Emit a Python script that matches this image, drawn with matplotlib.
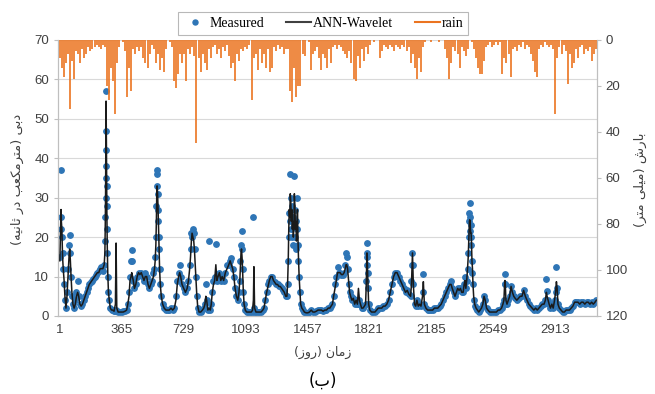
import numpy as np
import matplotlib

matplotlib.use("Agg")
import matplotlib.pyplot as plt
from matplotlib.lines import Line2D

# ---- data ---------------------------------------------------------------
# discharge (m3/s) : day index, measured, ANN-Wavelet
day = [
    1, 5, 8, 10, 13, 17, 21, 26, 31, 37,
    43, 49, 55, 59, 63, 67, 72, 78, 85, 92,
    99, 106, 112, 119, 126, 134, 142, 150, 158, 166,
    174, 182, 190, 198, 206, 214, 222, 230, 238, 246,
    254, 262, 266, 268, 270, 271, 272, 273, 274, 275,
    276, 277, 278, 280, 283, 287, 292, 298, 305, 312,
    320, 328, 332, 336, 344, 354, 364, 374, 384, 394,
    401, 408, 414, 420, 424, 428, 433, 440, 448, 456,
    464, 472, 480, 488, 496, 504, 512, 520, 528, 536,
    544, 552, 558, 562, 566, 569, 571, 573, 575, 577,
    579, 581, 583, 585, 588, 592, 598, 606, 615, 625,
    635, 645, 655, 665, 675, 684, 692, 700, 706, 712,
    720, 730, 740, 750, 758, 765, 770, 775, 779, 784,
    789, 794, 800, 806, 812, 820, 830, 840, 848, 855,
    860, 865, 872, 880, 886, 892, 898, 905, 912, 919,
    925, 932, 940, 948, 956, 965, 975, 985, 995, 1003,
    1010, 1018, 1025, 1032, 1040, 1048, 1055, 1060, 1064, 1067,
    1070, 1073, 1076, 1080, 1085, 1092, 1100, 1110, 1120, 1128,
    1135, 1140, 1143, 1147, 1155, 1165, 1175, 1185, 1195, 1202,
    1210, 1218, 1226, 1234, 1242, 1250, 1258, 1266, 1274, 1282,
    1290, 1298, 1306, 1314, 1322, 1330, 1337, 1341, 1345, 1348,
    1351, 1354, 1357, 1360, 1363, 1366, 1369, 1372, 1375, 1378,
    1381, 1384, 1387, 1390, 1393, 1396, 1399, 1402, 1405, 1409,
    1413, 1418, 1425, 1433, 1440, 1450, 1460, 1470, 1480, 1490,
    1500, 1510, 1520, 1530, 1540, 1550, 1560, 1570, 1580, 1590,
    1597, 1605, 1612, 1620, 1628, 1635, 1642, 1650, 1658, 1666,
    1674, 1680, 1685, 1689, 1694, 1700, 1706, 1712, 1720, 1728,
    1736, 1744, 1752, 1758, 1764, 1770, 1777, 1785, 1793, 1800,
    1804, 1806, 1807, 1808, 1810, 1812, 1815, 1818, 1825, 1835,
    1845, 1855, 1865, 1875, 1885, 1895, 1905, 1915, 1925, 1935,
    1945, 1955, 1965, 1975, 1985, 1995, 2005, 2015, 2025, 2035,
    2045, 2055, 2065, 2070, 2074, 2076, 2078, 2081, 2088, 2095,
    2102, 2110, 2118, 2126, 2135, 2140, 2146, 2155, 2165, 2175,
    2185, 2195, 2205, 2215, 2225, 2235, 2245, 2255, 2265, 2275,
    2285, 2295, 2303, 2310, 2318, 2326, 2334, 2342, 2350, 2358,
    2366, 2374, 2380, 2385, 2390, 2395, 2400, 2404, 2407, 2409,
    2411, 2413, 2415, 2417, 2419, 2421, 2423, 2426, 2429, 2432,
    2436, 2442, 2450, 2458, 2466, 2474, 2482, 2490, 2497, 2504,
    2512, 2520, 2530, 2540, 2550, 2560, 2570, 2580, 2590, 2600,
    2608, 2614, 2618, 2620, 2622, 2626, 2632, 2640, 2648, 2656,
    2664, 2672, 2680, 2690, 2700, 2710, 2720, 2730, 2740, 2750,
    2760, 2770, 2780, 2790, 2800, 2810, 2820, 2830, 2840, 2850,
    2858, 2864, 2868, 2874, 2880, 2888, 2896, 2904, 2912, 2918,
    2923, 2927, 2932, 2940, 2950, 2960, 2970, 2980, 2990, 3000,
    3010, 3020, 3030, 3040, 3050, 3060, 3070, 3080, 3090, 3100,
    3110, 3120, 3130, 3140, 3150, 3158,
]
q_obs = [
    15, 22, 25, 37, 20, 16, 12, 8, 4, 2,
    6, 12, 18, 20.5, 16, 10, 5, 3, 2, 4,
    6, 9, 5, 3, 2.5, 3, 4, 5, 6, 7,
    8, 8.5, 9, 9.5, 10, 10.5, 11, 11.5, 12, 12.5,
    11.5, 13, 19, 25, 57, 30, 35, 47, 42, 38,
    33, 28, 22, 16, 10, 6, 4, 2, 1.5, 1.5,
    1.2, 1.2, 1.5, 1.2, 1, 1, 1, 1.2, 1.2, 1.5,
    3, 6, 10, 14, 16.8, 14, 9, 7, 8, 10,
    11, 10.5, 11, 10, 9, 11, 10, 8, 7, 8,
    9, 11, 12, 15, 20, 28, 37, 36, 33, 31,
    27, 24, 20, 17, 12, 8, 5, 3, 2, 1.5,
    1.5, 1.5, 2, 1.5, 2, 5, 9, 11, 13, 10,
    8, 7, 6, 7, 9, 13, 17, 21, 20, 22,
    21, 17, 10, 5, 2, 1, 1, 1.5, 2, 3,
    8, 4, 1.5, 18.9, 1.5, 3, 6, 9, 10, 18.3,
    9, 10, 11, 9, 10, 9, 11, 13, 13, 14,
    14.8, 12, 10, 7, 5, 4, 6, 9, 14, 18,
    21.6, 17, 12, 6, 3, 1.5, 1, 1, 1, 1,
    25, 1, 2, 1, 1, 1, 1, 1, 1.5, 2,
    4, 6, 8, 9, 10, 10, 9, 8.5, 8, 8,
    7.5, 7.5, 7, 6.5, 6, 5, 5, 8, 14, 20,
    26, 24, 36, 30, 22, 28, 20, 25, 18, 23,
    35.5, 27, 20, 24, 17, 22, 29.9, 18, 14, 10,
    6, 3, 2, 1.5, 1, 0.8, 0.8, 1, 1.5, 1,
    1, 1.2, 1.5, 1.5, 1.5, 1.2, 1.5, 1.5, 2, 2,
    2.5, 3, 5, 8, 10, 12.5, 11, 11, 10.5, 10.5,
    11, 13, 16, 15, 12, 8, 6, 5, 4, 4.5,
    3, 4, 3, 3, 4, 3, 2, 2, 2.5, 3,
    9, 13, 16, 18.5, 15, 11, 7, 3, 1.5, 1,
    1, 1, 1.5, 2, 2, 2, 2.5, 2.5, 3, 4,
    6, 8, 10, 11, 11, 10, 9, 8, 7, 6,
    6.5, 5.5, 5, 9, 13, 16, 13, 8, 3, 2.5,
    4, 2.5, 3, 2.5, 10.6, 6, 3, 2, 1.5, 1.5,
    1.5, 1.5, 2, 2, 2, 2.5, 3, 4, 5, 6,
    7, 8, 9, 7, 6, 5, 6, 7, 6.5, 7,
    6, 6, 8, 10, 7, 9, 12, 16, 20, 24,
    26, 28.7, 25, 21.6, 20, 23, 18, 14, 11, 8,
    4, 2.5, 2, 1.5, 1, 1.5, 2, 3, 5, 4,
    2, 1.5, 1, 1, 1, 1, 1, 1.5, 1.5, 2,
    3, 4, 8, 10.6, 8, 3, 3, 4, 5, 7.5,
    6, 5, 4.5, 4, 4.5, 5, 5, 6.6, 5, 4,
    3, 2.5, 2, 1.5, 2, 1.5, 2, 2.5, 3, 3,
    4, 9.5, 6.4, 4, 3, 2, 3, 2, 4, 6,
    12.4, 7, 3, 2, 1.5, 1, 1, 1.5, 1.5, 1.5,
    2, 2.5, 3.5, 3.5, 3.5, 3, 3.5, 3.5, 3, 3.5,
    3.5, 3, 3.5, 3, 3.5, 4,
]
q_ann = [
    14, 21, 27, 24, 22, 15, 12, 9, 5, 2,
    5, 10, 15, 17, 14, 10, 6, 3, 2, 3,
    5, 6, 5, 3, 2.5, 3, 4, 5, 6, 7,
    8, 8.5, 9, 9.5, 10, 10.5, 11, 11, 12, 12,
    12, 13, 16, 22, 30, 40, 50, 54.5, 50, 44,
    38, 32, 25, 18, 11, 6, 4, 2, 1.5, 1.5,
    1.2, 3, 18.5, 2, 1, 1, 1, 1, 1.2, 1.5,
    3, 5, 9, 10, 11, 10, 9, 7, 8, 10,
    11, 10.5, 11, 10, 9, 10, 10, 8, 7, 8,
    9, 10, 12, 14, 18, 24, 30, 33, 32, 30,
    27, 24, 20, 17, 12, 8, 5, 3, 2, 1.5,
    1.5, 1.5, 2, 1.5, 2, 4, 8, 10, 11, 10,
    8, 7, 6, 7, 9, 12, 15, 19, 21, 20,
    19, 16, 11, 6, 2.5, 1, 1, 1.5, 2, 3,
    5, 4, 1.5, 2, 1.5, 3, 6, 8, 9, 13,
    9, 10, 11, 9, 10, 9, 11, 12, 13, 14,
    13, 12, 10, 7, 5, 4, 6, 9, 13, 16,
    17, 15, 12, 7, 3, 1.5, 1, 1, 1, 1,
    1.5, 4, 12.5, 2, 1, 1, 1, 1, 1.5, 2,
    4, 6, 7.5, 9, 10, 10, 9, 8.5, 8, 8,
    7.5, 7.5, 7, 6.5, 6, 5, 5, 8, 14, 22,
    27, 25, 31, 29, 24, 27, 22, 24, 20, 22,
    31, 28, 22, 24, 19, 20, 27, 20, 15, 10,
    7, 3, 2, 1.5, 1, 0.8, 0.8, 1, 1.5, 1,
    1, 1.2, 1.5, 1.5, 1.5, 1.2, 1.5, 1.5, 2, 2,
    2.5, 3, 5, 7, 9, 11, 11, 11, 10.5, 10.5,
    11, 12, 13, 13, 12, 9, 6, 5, 4, 4.5,
    3, 4, 3, 7, 4, 3, 2, 2, 2.5, 3,
    8, 12, 14, 16, 15, 11, 7, 3, 1.5, 1,
    1, 1, 1.5, 2, 2, 2, 2.5, 2.5, 3, 4,
    6, 8, 10, 11, 11, 10, 9, 8, 7, 6,
    6.5, 5.5, 5, 8, 13, 16, 13, 8, 3, 2.5,
    4, 2.5, 3, 2.5, 5, 8.7, 3, 2, 1.5, 1.5,
    1.5, 1.5, 2, 2, 2, 2.5, 3, 4, 5, 6,
    7, 8, 8, 7, 6, 5, 6, 7, 6.5, 7,
    6, 6, 8, 9, 7, 9, 12, 15, 19, 22,
    24, 24.4, 24, 22, 21, 21, 19, 14, 12, 8,
    5, 3, 2, 1.5, 1, 1.5, 2, 3, 5, 4,
    2, 1.5, 1, 1, 1, 1, 1, 1.5, 1.5, 2,
    3, 4, 8, 9, 8, 4, 3, 4, 5, 7.5,
    6, 5, 4.5, 4, 4.5, 5, 5, 6.5, 5, 4,
    3, 2.5, 2, 1.5, 2, 1.5, 2, 2.5, 3, 3,
    4, 6, 5, 4, 3, 2, 3, 2, 4, 6,
    8.7, 7, 3, 2, 1.5, 1, 1, 1.5, 1.5, 1.5,
    2, 2.5, 3.5, 3.5, 3.5, 3, 3.5, 3.5, 3, 3.5,
    3.5, 3, 3.5, 3, 3.5, 4,
]

# rain (mm), one value every 12 days starting at day 1
rain_step = 12
rain = [
    8, 12, 16, 10, 6, 30, 9, 17, 5, 6,
    10, 4, 8, 6, 3, 5, 4, 3, 2, 3,
    4, 2, 3, 20, 26, 12, 18, 32, 10, 3,
    0, 1, 5, 25, 12, 22, 4, 6, 3, 5,
    3, 8, 10, 12, 6, 2, 4, 10, 6, 13,
    8, 14, 4, 0, 1, 3, 18, 21, 15, 6,
    10, 6, 18, 4, 6, 3, 7, 45, 8, 14,
    6, 10, 13, 4, 8, 3, 2, 6, 4, 8,
    3, 5, 2, 7, 12, 10, 18, 6, 9, 4,
    5, 3, 4, 2, 26, 8, 6, 13, 4, 10,
    6, 12, 4, 14, 12, 3, 5, 2, 4, 3,
    6, 4, 4, 22, 27, 12, 25, 20, 20, 6,
    7, 0, 1, 13, 6, 5, 3, 8, 13, 6,
    8, 12, 4, 10, 3, 2, 4, 2, 3, 5,
    6, 8, 5, 10, 17, 18, 7, 12, 4, 9,
    3, 6, 2, 0, 1, 0, 0, 8, 5, 2,
    3, 4, 2, 3, 5, 2, 3, 4, 2, 3,
    5, 3, 10, 6, 12, 17, 8, 14, 3, 1,
    0, 0, 1, 0, 0, 0, 1, 0, 0, 4,
    8, 17, 10, 3, 5, 6, 12, 3, 5, 7,
    4, 0, 1, 4, 8, 12, 15, 15, 9, 3,
    2, 1, 3, 2, 1, 2, 1, 15, 8, 10,
    6, 16, 4, 3, 5, 2, 3, 1, 4, 2,
    3, 6, 9, 14, 16, 4, 2, 3, 1, 2,
    3, 2, 4, 32, 8, 3, 6, 2, 5, 19,
    6, 12, 10, 4, 8, 3, 2, 6, 4, 5,
    3, 9, 6, 4,
]

x_ticks = [1, 365, 729, 1093, 1457, 1821, 2185, 2549, 2913]

assert len(day) == len(q_obs) == len(q_ann)

# ---- simple Persian shaping (matplotlib has no complex text layout) ------
FORMS = {
    "ا": "\uFE8D\uFE8E", "د": "\uFEA9\uFEAA", "ر": "\uFEAD\uFEAE",
    "ز": "\uFEAF\uFEB0", "و": "\uFEED\uFEEE",
    "ب": "\uFE8F\uFE90\uFE91\uFE92", "ت": "\uFE95\uFE96\uFE97\uFE98",
    "ث": "\uFE99\uFE9A\uFE9B\uFE9C", "ش": "\uFEB5\uFEB6\uFEB7\uFEB8",
    "ع": "\uFEC9\uFECA\uFECB\uFECC", "ل": "\uFEDD\uFEDE\uFEDF\uFEE0",
    "م": "\uFEE1\uFEE2\uFEE3\uFEE4", "ن": "\uFEE5\uFEE6\uFEE7\uFEE8",
    "ه": "\uFEE9\uFEEA\uFEEB\uFEEC", "ی": "\uFBFC\uFBFD\uFBFE\uFBFF",
    "ک": "\uFB8E\uFB8F\uFB90\uFB91",
}


def fa(s: str) -> str:
    out = []
    for i, c in enumerate(s):
        f = FORMS.get(c)
        if f is None:
            out.append(c)
            continue
        prev = s[i - 1] if i > 0 else ""
        nxt = s[i + 1] if i + 1 < len(s) else ""
        jp = len(FORMS.get(prev, "")) == 4
        jn = len(f) == 4 and nxt in FORMS
        out.append(f[3] if (jp and jn) else f[1] if jp else f[2] if jn else f[0])
    return "".join(reversed(out)).translate(str.maketrans("()", ")("))


# ---- plot ---------------------------------------------------------------
blue = "#2E75B6"
orange = "#EB7420"
grey = "#BFBFBF"
txt = "#404040"
fa_font = ["DejaVu Sans"]

plt.rcParams["font.family"] = ["Liberation Sans", "DejaVu Sans"]

fig = plt.figure(figsize=(6.55, 3.94), dpi=100)
ax = fig.add_axes([0.0885, 0.198, 0.8225, 0.7005])

ax.plot(day, q_obs, "o", ms=3.9, color=blue, mec=blue, zorder=2)
ax.plot(day, q_ann, "-", lw=1.1, color="#1A1A1A", zorder=3)

ax.set_xlim(-10, 3160)
ax.set_ylim(0, 70)
ax.set_yticks(range(0, 71, 10))
ax.set_xticks(x_ticks)
ax.yaxis.grid(True, color="#D9D9D9", lw=0.8)
ax.set_axisbelow(True)
ax.tick_params(axis="y", direction="out", length=3, color=grey, labelsize=9.5, labelcolor=txt)
ax.tick_params(axis="x", length=0, labelsize=9.5, labelcolor=txt, pad=6)
for side in ["left", "bottom", "right"]:
    ax.spines[side].set_color(grey)
ax.spines["top"].set_visible(False)

ax2 = ax.twinx()
ax2.vlines(np.arange(len(rain)) * rain_step + 1, 0, rain, color=orange, lw=1.2)
ax2.set_ylim(120, 0)
ax2.set_yticks(range(0, 121, 20))
ax2.tick_params(axis="y", direction="out", length=3, color=grey, labelsize=9.5, labelcolor=txt)
for side in ["left", "bottom", "right"]:
    ax2.spines[side].set_color(grey)
ax2.spines["top"].set_visible(False)

fig.text(0.026, 0.545, fa("دبی (مترمکعب در ثانیه)"), rotation=90, ha="center",
         va="center", fontsize=9.5, family=fa_font, color=txt)
fig.text(0.978, 0.545, fa("بارش (میلی متر)"), rotation=90, ha="center",
         va="center", fontsize=9.5, family=fa_font, color=txt)
fig.text(0.493, 0.105, fa("زمان (روز)"), ha="center", va="center",
         fontsize=9, family=fa_font, color=txt)
fig.text(0.493, 0.033, fa("(ب)"), ha="center", va="center",
         fontsize=12, family=fa_font, color="black")

handles = [
    Line2D([], [], ls="none", marker="o", ms=3.6, color=blue),
    Line2D([], [], color="#404040", lw=1.5),
    Line2D([], [], color=orange, lw=1.5),
]
leg = fig.legend(handles, ["Measured", "ANN-Wavelet", "rain"], loc="center",
                 bbox_to_anchor=(0.493, 0.94), ncol=3, frameon=True, fancybox=False,
                 edgecolor="#A6A6A6", handlelength=1.8, handletextpad=0.1,
                 columnspacing=1.6, borderpad=0.35,
                 prop={"family": "Liberation Serif", "size": 10})
leg.get_frame().set_linewidth(0.8)

fig.savefig("out.png", dpi=100)
